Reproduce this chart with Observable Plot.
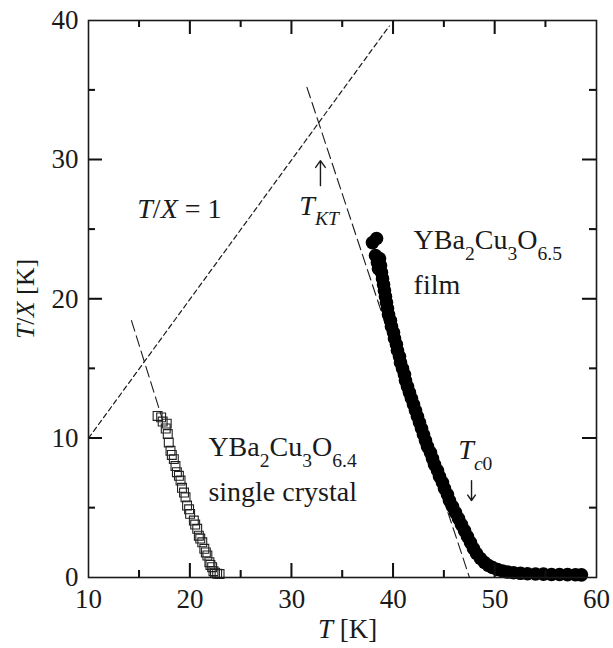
<!DOCTYPE html>
<html>
<head>
<meta charset="utf-8">
<script src="https://cdn.jsdelivr.net/npm/d3@7"></script>
<script src="https://cdn.jsdelivr.net/npm/@observablehq/plot@0.6"></script>
</head>
<body>
<div id="chart" style="position:absolute;left:0;top:0;"></div>
<script>
// ---- Data ----
// YBa2Cu3O6.5 film (filled circles)
const filmT = [38.35, 37.95, 38.25, 38.64, 38.44, 38.74, 38.54, 38.84, 38.94, 39.04, 39.13, 39.23, 39.33, 39.43, 39.53, 39.72, 39.82, 40.02, 40.12, 40.31, 40.41, 40.61, 40.71, 40.91, 41.10, 41.20, 41.40, 41.59, 41.79, 41.99, 42.19, 42.38, 42.58, 42.78, 42.97, 43.17, 43.37, 43.66, 43.86, 44.06, 44.35, 44.55, 44.84, 45.04, 45.33, 45.53, 45.83, 46.12, 46.42, 46.71, 47.01, 47.30, 47.60, 47.89, 48.19, 48.58, 48.98, 49.37, 49.76, 50.26, 50.75, 51.24, 51.83, 52.52, 53.21, 54.0, 54.78, 55.57, 56.36, 57.15, 57.93, 58.52];
const filmY = [24.34, 24.05, 23.12, 22.90, 22.61, 22.40, 22.18, 21.90, 21.46, 21.03, 20.60, 20.17, 19.74, 19.31, 18.88, 18.45, 18.02, 17.59, 17.16, 16.73, 16.30, 15.87, 15.43, 15.00, 14.57, 14.14, 13.71, 13.28, 12.85, 12.42, 11.99, 11.56, 11.13, 10.70, 10.27, 9.83, 9.40, 8.97, 8.54, 8.11, 7.68, 7.25, 6.82, 6.39, 5.96, 5.53, 5.10, 4.67, 4.24, 3.80, 3.37, 2.94, 2.51, 2.08, 1.72, 1.36, 1.08, 0.86, 0.72, 0.57, 0.47, 0.39, 0.34, 0.30, 0.27, 0.25, 0.24, 0.22, 0.22, 0.21, 0.20, 0.19];

// YBa2Cu3O6.4 single crystal (open squares)
const crystalT = [16.8, 17.15, 17.3, 17.6, 17.7, 17.8, 17.9, 18.07, 18.2, 18.4, 18.56, 18.7, 18.9, 19.06, 19.2, 19.4, 19.55, 19.7, 19.9, 20.0, 20.37, 20.5, 20.7, 20.86, 21.0, 21.2, 21.4, 21.55, 21.7, 21.9, 22.0, 22.17, 22.3, 22.45, 22.66, 22.9];
const crystalY = [11.6, 11.5, 11.2, 10.7, 11.05, 10.3, 9.7, 9.1, 8.8, 8.5, 8.0, 7.56, 7.3, 6.96, 6.44, 6.1, 5.76, 5.17, 4.9, 4.57, 4.09, 3.8, 3.5, 3.0, 2.8, 2.53, 2.06, 1.8, 1.58, 1.1, 0.9, 0.74, 0.45, 0.35, 0.27, 0.25];

// Dashed guide lines
const unityT = [10, 39.6];           // T/X = 1
const unityY = [10, 39.6];
const filmFitT = [31.5, 47.5];       // linear extrapolation, film
const filmFitY = [35.2, 0];
const crystalFitT = [14.23, 17.3];   // linear extrapolation, crystal
const crystalFitY = [18.45, 11.3];

// Axes
const xDomain = [10, 60];
const yDomain = [0, 40];
const xTickLabels = [10, 20, 30, 40, 50, 60];
const yTickLabels = [0, 10, 20, 30, 40];
const xMajor = [20, 30, 40, 50];
const xMinor = [15, 25, 35, 45, 55];
const yMajor = [10, 20, 30];
const yMinor = [5, 15, 25, 35];

// Annotations (markup: *italic*, _{subscript})
const labelText = ["YBa_{2}Cu_{3}O_{6.5}", "film", "YBa_{2}Cu_{3}O_{6.4}", "single crystal", "*T*/*X* = 1", "*T*_{*KT*}", "*T*_{*c*0}"];
const labelT = [42.0, 42.0, 21.8, 21.8, 14.8, 30.75, 46.4];
const labelY = [24.2, 20.98, 9.35, 6.12, 26.44, 26.7, 9.14];

const arrowT = [32.83, 47.7];
const arrowFrom = [28.14, 6.96];
const arrowTo = [29.94, 5.53];

// ---- Build tables ----
const film = filmT.map((t, i) => ({t, v: filmY[i]}));
const crystal = crystalT.map((t, i) => ({t, v: crystalY[i]}));
const unity = unityT.map((t, i) => ({t, v: unityY[i]}));
const filmFit = filmFitT.map((t, i) => ({t, v: filmFitY[i]}));
const crystalFit = crystalFitT.map((t, i) => ({t, v: crystalFitY[i]}));
const labels = labelText.map((s, i) => ({s, t: labelT[i], v: labelY[i]}));
const arrows = arrowT.map((t, i) => ({t, a: arrowFrom[i], b: arrowTo[i]}));

const W = 613, H = 648;
const mL = 88, mR = 17, mT = 20, mB = 71;
const plotW = W - mL - mR, plotH = H - mT - mB;
const kx = (xDomain[1] - xDomain[0]) / plotW;   // data units per px
const ky = (yDomain[1] - yDomain[0]) / plotH;
const major = 14, minor = 7, half = 0.75;
const ink = "#1a1a1a";
const tickStyle = {stroke: "#111", strokeWidth: 1.5};

// inward tick bars (thin filled rectangles) on all four sides
const tickBars = [];
[[xMajor, major], [xMinor, minor]].forEach(([vals, len]) => vals.forEach(v => {
  tickBars.push({x1: v - half * kx, x2: v + half * kx, y1: yDomain[0], y2: yDomain[0] + len * ky});
  tickBars.push({x1: v - half * kx, x2: v + half * kx, y1: yDomain[1] - len * ky, y2: yDomain[1]});
}));
[[yMajor, major], [yMinor, minor]].forEach(([vals, len]) => vals.forEach(v => {
  tickBars.push({y1: v - half * ky, y2: v + half * ky, x1: xDomain[0], x2: xDomain[0] + len * kx});
  tickBars.push({y1: v - half * ky, y2: v + half * ky, x1: xDomain[1] - len * kx, x2: xDomain[1]});
}));

const chart = Plot.plot({
  width: W, height: H,
  marginLeft: mL, marginRight: mR, marginTop: mT, marginBottom: mB,
  style: {fontFamily: "Liberation Serif, serif", fontSize: "27px", color: ink, background: "#fff"},
  x: {domain: xDomain, label: null},
  y: {domain: yDomain, label: null},
  marks: [
    Plot.axisX({ticks: xTickLabels, tickSize: 0, tickPadding: 11, tickFormat: d => String(d), fontSize: 27}),
    Plot.axisY({ticks: yTickLabels, tickSize: 0, tickPadding: 10, tickFormat: d => String(d), fontSize: 27}),
    // dashed guides
    Plot.line(unity, {x: "t", y: "v", stroke: ink, strokeWidth: 1.2, strokeDasharray: "5,3.5"}),
    Plot.line(filmFit, {x: "t", y: "v", stroke: ink, strokeWidth: 1.1, strokeDasharray: "11,5"}),
    Plot.line(crystalFit, {x: "t", y: "v", stroke: ink, strokeWidth: 1.1, strokeDasharray: "11,5"}),
    // data
    Plot.dot(crystal, {x: "t", y: "v", symbol: "square", r: 5, stroke: "#222", strokeWidth: 1.1, fill: "none"}),
    Plot.dot(film, {x: "t", y: "v", r: 6.8, fill: "#000", stroke: "none"}),
    // annotations
    Plot.text(labels, {x: "t", y: "v", text: "s", textAnchor: "start", lineAnchor: "middle", fontSize: 28, fill: ink}),
    Plot.arrow(arrows, {x1: "t", y1: "a", x2: "t", y2: "b", stroke: ink, strokeWidth: 1.4, headLength: 9, headAngle: 70}),
    // axis titles
    Plot.text(["*T*/*X* [K]"], {frameAnchor: "left", dx: -63, rotate: -90, textAnchor: "middle", lineAnchor: "middle", fontSize: 26, fill: ink}),
    Plot.text(["*T* [K]"], {frameAnchor: "bottom", dx: 5, dy: 52, textAnchor: "middle", lineAnchor: "middle", fontSize: 27, fill: ink}),
    // inward ticks
    Plot.rect(tickBars, {x1: "x1", x2: "x2", y1: "y1", y2: "y2", fill: "#111"}),
    Plot.ruleX(xMajor, {x: d => d, y1: yDomain[0], y2: yDomain[0] + major * ky, ...tickStyle}),
    Plot.ruleX(xMajor, {x: d => d, y1: yDomain[1], y2: yDomain[1] - major * ky, ...tickStyle}),
    Plot.ruleX(xMinor, {x: d => d, y1: yDomain[0], y2: yDomain[0] + minor * ky, ...tickStyle}),
    Plot.ruleX(xMinor, {x: d => d, y1: yDomain[1], y2: yDomain[1] - minor * ky, ...tickStyle}),
    Plot.ruleY(yMajor, {y: d => d, x1: xDomain[0], x2: xDomain[0] + major * kx, ...tickStyle}),
    Plot.ruleY(yMajor, {y: d => d, x1: xDomain[1], x2: xDomain[1] - major * kx, ...tickStyle}),
    Plot.ruleY(yMinor, {y: d => d, x1: xDomain[0], x2: xDomain[0] + minor * kx, ...tickStyle}),
    Plot.ruleY(yMinor, {y: d => d, x1: xDomain[1], x2: xDomain[1] - minor * kx, ...tickStyle}),
    // frame
    Plot.frame({stroke: ink, strokeWidth: 1.6})
  ]
});

document.getElementById("chart").appendChild(chart);

// Rich text: *italic* and _{subscript}
const NS = "http://www.w3.org/2000/svg";
chart.querySelectorAll("text").forEach(t => {
  const s = t.textContent;
  if (!/[*_]/.test(s)) return;
  const base = parseFloat(getComputedStyle(t).fontSize) || 27;
  const runs = [];
  let italic = false, sub = false, buf = "";
  const flush = () => { if (buf) runs.push({text: buf, italic, sub}); buf = ""; };
  for (let i = 0; i < s.length; i++) {
    const c = s[i];
    if (c === "*") { flush(); italic = !italic; }
    else if (c === "_" && s[i + 1] === "{") { flush(); sub = true; i++; }
    else if (c === "}" && sub) { flush(); sub = false; }
    else buf += c;
  }
  flush();
  t.textContent = "";
  const off = base * 0.38;
  let prevSub = false;
  runs.forEach(r => {
    const ts = document.createElementNS(NS, "tspan");
    ts.textContent = r.text;
    if (r.italic) ts.setAttribute("font-style", "italic");
    if (r.sub) ts.setAttribute("font-size", (base * 0.7).toFixed(1));
    const shift = (r.sub ? 1 : 0) - (prevSub ? 1 : 0);
    if (shift) ts.setAttribute("dy", (shift * off).toFixed(1));
    prevSub = r.sub;
    t.appendChild(ts);
  });
});
</script>
</body>
</html>
